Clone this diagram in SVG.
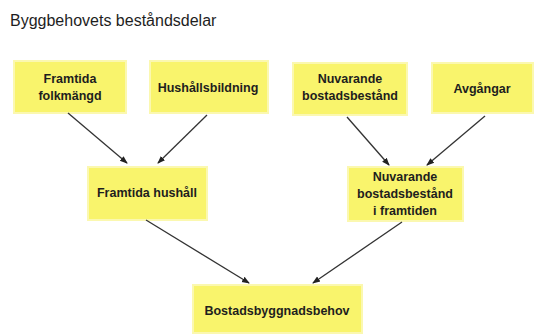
<svg xmlns="http://www.w3.org/2000/svg" width="540" height="334" viewBox="0 0 540 334">
<defs>
<style>
.box{fill:#f9f46c;stroke:#fbf8b0;stroke-width:2}
.t{font-family:"Liberation Sans",Arial,sans-serif;font-weight:bold;font-size:12.5px;fill:#1e1e1e;text-anchor:middle}
.title{font-family:"Liberation Sans",Arial,sans-serif;font-size:16px;fill:#1e1e1e}
.c{stroke:#333;stroke-width:1.3;fill:none;marker-end:url(#ah)}
</style>
<marker id="ah" markerWidth="8" markerHeight="8" refX="7" refY="4" orient="auto" markerUnits="userSpaceOnUse">
<path d="M0,1 L8,4 L0,7 Z" fill="#222"/>
</marker>
</defs>
<rect width="540" height="334" fill="#fff"/>
<text class="title" x="10" y="26">Byggbehovets beståndsdelar</text>
<g id="n1"><rect class="box" x="14" y="61" width="112" height="52"/><text class="t" x="70" y="83">Framtida</text><text class="t" x="70" y="100">folkmängd</text></g>
<g id="n2"><rect class="box" x="150" y="61" width="118" height="52"/><text class="t" x="208" y="92">Hushållsbildning</text></g>
<g id="n3"><rect class="box" x="293" y="63" width="114" height="52"/><text class="t" x="350" y="83">Nuvarande</text><text class="t" x="350" y="100">bostadsbestånd</text></g>
<g id="n4"><rect class="box" x="432" y="63" width="101" height="50"/><text class="t" x="482" y="93">Avgångar</text></g>
<g id="n5"><rect class="box" x="88" y="167" width="119" height="53"/><text class="t" x="147" y="197">Framtida hushåll</text></g>
<g id="n6"><rect class="box" x="348" y="167" width="115" height="54"/><text class="t" x="405" y="181">Nuvarande</text><text class="t" x="405" y="198">bostadsbestånd</text><text class="t" x="405" y="215">i framtiden</text></g>
<g id="n7"><rect class="box" x="193" y="285" width="169" height="48"/><text class="t" x="277" y="315">Bostadsbyggnadsbehov</text></g>
<g id="connectors">
<line class="c" x1="68" y1="113" x2="127" y2="163"/>
<line class="c" x1="207" y1="115" x2="158" y2="163"/>
<line class="c" x1="347" y1="117" x2="389" y2="165"/>
<line class="c" x1="485" y1="116" x2="427" y2="165"/>
<line class="c" x1="146" y1="220" x2="249" y2="283"/>
<line class="c" x1="402" y1="222" x2="313" y2="283"/>
</g>
</svg>
